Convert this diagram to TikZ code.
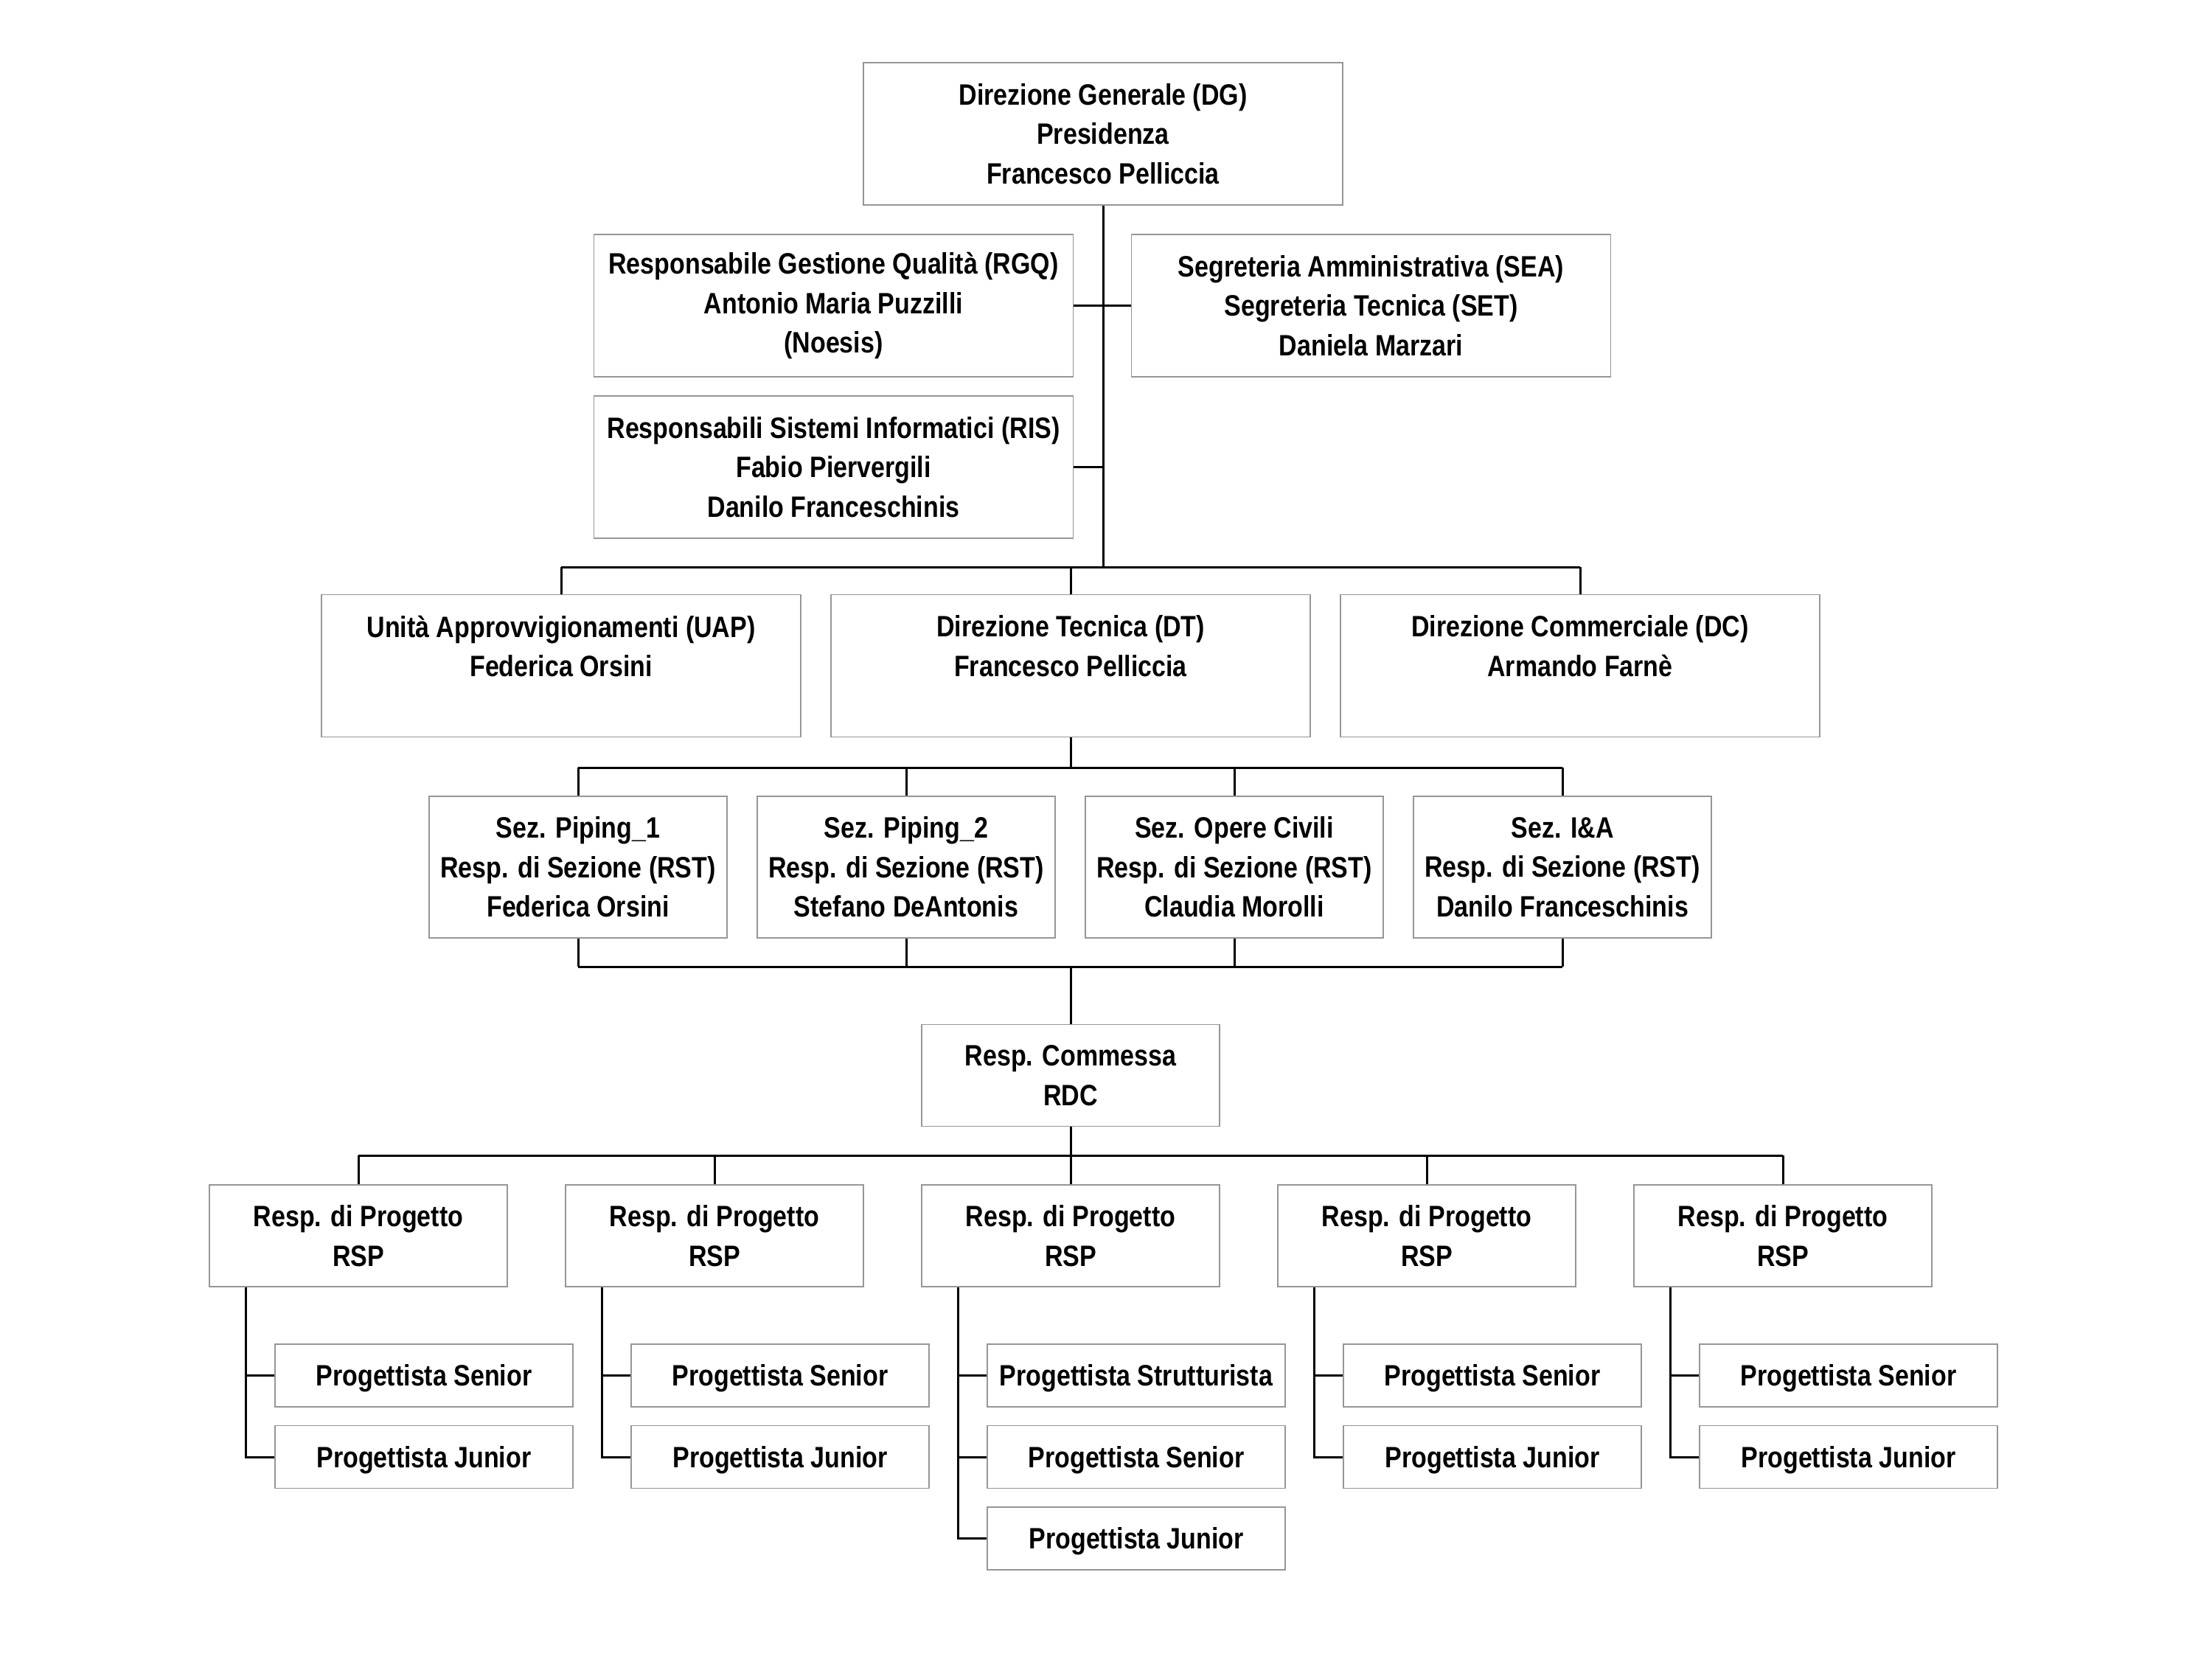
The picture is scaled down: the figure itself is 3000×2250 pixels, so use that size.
\documentclass[tikz,border=0pt]{standalone}
\usepackage{fontspec}
\setmainfont{Liberation Sans}[FakeStretch=0.85]
\definecolor{boxgray}{RGB}{150,150,150}
\tikzset{
  box/.style={draw=boxgray, line width=0.45pt, fill=white, align=center, inner sep=0pt,
    font=\bfseries\fontsize{10}{13.4}\selectfont},
  bigbox/.style={box, minimum width=162.5pt, minimum height=48.25pt},
  secbox/.style={box, minimum width=101pt, minimum height=48pt},
  rspbox/.style={box, minimum width=101pt, minimum height=34.5pt},
  leafbox/.style={box, minimum width=101pt, minimum height=21.25pt, text height=7.6pt, text depth=0.5pt},
  conn/.style={line width=0.75pt, black},
}
\begin{document}
\begin{tikzpicture}[x=0.25pt, y=-0.25pt]
\useasboundingbox (0,0) rectangle (3000,2250);

% top level
\node[bigbox] (dg) at (1496,181.5) {Direzione Generale (DG)\\Presidenza\\Francesco Pelliccia};
\node[bigbox] (rgq) at (1130.5,414.5) {Responsabile Gestione Qualità (RGQ)\\Antonio Maria Puzzilli\\(Noesis)};
\node[bigbox] (sea) at (1859.5,414.5) {Segreteria Amministrativa (SEA)\\Segreteria Tecnica (SET)\\Daniela Marzari};
\node[bigbox] (ris) at (1130.5,633.5) {Responsabili Sistemi Informatici (RIS)\\Fabio Piervergili\\Danilo Franceschinis};

\coordinate (b1) at (1496,769);
\coordinate (b2) at (1452,1041);
\coordinate (b3) at (1452,1311);
\coordinate (b4) at (1452,1567);

% second level
\node[bigbox] (uap) at (761,903) {Unità Approvvigionamenti (UAP)\\Federica Orsini\\\mbox{}};
\node[bigbox] (dt) at (1452,903) {Direzione Tecnica (DT)\\Francesco Pelliccia\\\mbox{}};
\node[bigbox] (dc) at (2143,903) {Direzione Commerciale (DC)\\Armando Farnè\\\mbox{}};

% sections
\node[secbox] (s1) at (784,1176) {Sez. Piping\_1\\Resp. di Sezione (RST)\\Federica Orsini};
\node[secbox] (s2) at (1229,1176) {Sez. Piping\_2\\Resp. di Sezione (RST)\\Stefano DeAntonis};
\node[secbox] (s3) at (1674,1176) {Sez. Opere Civili\\Resp. di Sezione (RST)\\Claudia Morolli};
\node[secbox] (s4) at (2119,1176) {Sez. I\&A\\Resp. di Sezione (RST)\\Danilo Franceschinis};

% commessa
\node[rspbox] (rdc) at (1452,1458.5) {Resp. Commessa\\RDC};

% project managers and designers
\foreach \i/\cx in {1/486,2/969,3/1452,4/1935,5/2418}{
  \node[rspbox] (r\i) at (\cx,1676) {Resp. di Progetto\\RSP};
}
\foreach \i/\cx in {1/486,2/969,4/1935,5/2418}{
  \node[leafbox] (l\i a) at (\cx+89,1865.5) {Progettista Senior};
  \node[leafbox] (l\i b) at (\cx+89,1976) {Progettista Junior};
}
\node[leafbox] (l3a) at (1541,1865.5) {Progettista Strutturista};
\node[leafbox] (l3b) at (1541,1976) {Progettista Senior};
\node[leafbox] (l3c) at (1541,2086.5) {Progettista Junior};

% connectors: top
\draw[conn] (dg.south) -- (dg.south |- b1);
\draw[conn] (rgq.east) -- (rgq.east -| dg.south);
\draw[conn] (sea.west) -- (sea.west -| dg.south);
\draw[conn] (ris.east) -- (ris.east -| dg.south);
\draw[conn] (uap.north |- b1) -- (dc.north |- b1);
\foreach \n in {uap,dt,dc}{ \draw[conn] (\n.north |- b1) -- (\n.north); }

% DT to sections
\draw[conn] (dt.south) -- (b2);
\draw[conn] (s1.north |- b2) -- (s4.north |- b2);
\foreach \n in {s1,s2,s3,s4}{ \draw[conn] (\n.north |- b2) -- (\n.north); }

% sections to commessa
\draw[conn] (s1.south |- b3) -- (s4.south |- b3);
\foreach \n in {s1,s2,s3,s4}{ \draw[conn] (\n.south) -- (\n.south |- b3); }
\draw[conn] (b3) -- (rdc.north);

% commessa to RSP
\draw[conn] (rdc.south) -- (b4);
\draw[conn] (r1.north |- b4) -- (r5.north |- b4);
\foreach \i in {1,...,5}{ \draw[conn] (r\i.north |- b4) -- (r\i.north); }

% RSP to designers
\foreach \i in {1,2,4,5}{
  \draw[conn] ([xshift=12.5pt]r\i.south west) |- (l\i b.west);
  \draw[conn] ([xshift=12.5pt]r\i.south west |- l\i a.west) -- (l\i a.west);
}
\draw[conn] ([xshift=12.5pt]r3.south west) |- (l3c.west);
\draw[conn] ([xshift=12.5pt]r3.south west |- l3a.west) -- (l3a.west);
\draw[conn] ([xshift=12.5pt]r3.south west |- l3b.west) -- (l3b.west);
\end{tikzpicture}
\end{document}
